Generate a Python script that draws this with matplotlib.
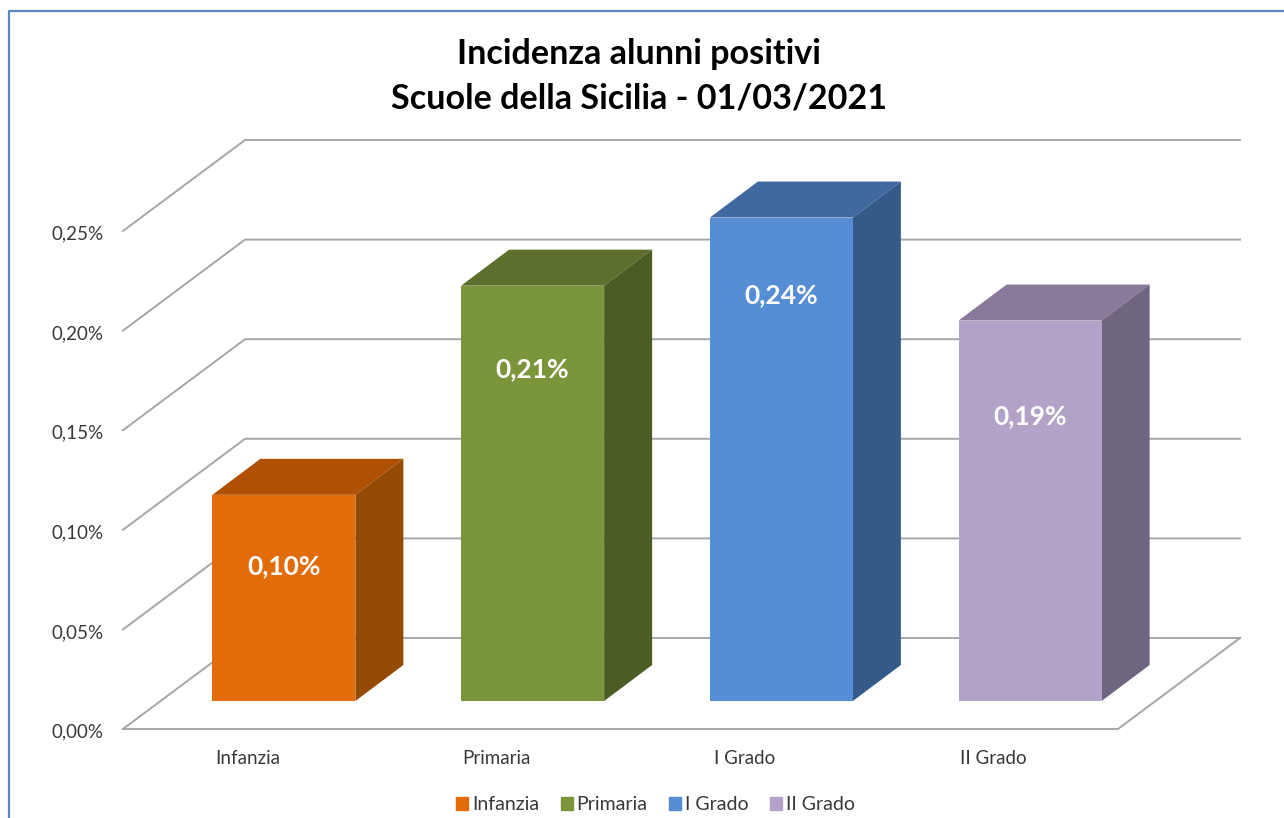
import matplotlib
matplotlib.use('Agg')
import matplotlib.pyplot as plt
from matplotlib.patches import Patch, Polygon, Rectangle
from matplotlib.transforms import ScaledTranslation

plt.rcParams['font.family'] = ['Lato', 'DejaVu Sans']

categories = ['Infanzia', 'Primaria', 'I Grado', 'II Grado']
values = [0.1035, 0.2085, 0.2427, 0.191]
value_labels = ['0,10%', '0,21%', '0,24%', '0,19%']
y_ticks = [0.00, 0.05, 0.10, 0.15, 0.20, 0.25]
y_tick_labels = ['0,00%', '0,05%', '0,10%', '0,15%', '0,20%', '0,25%']
front_colors = ['#E36C0A', '#7B953B', '#558ED5', '#B3A2C7']
side_colors = ['#954A04', '#4B5C25', '#345A8A', '#706580']
top_colors = ['#AF5004', '#5C6F2C', '#4069A0', '#887A98']
label_drop = [71, 83, 78, 96]  # px below the top of the bar

W, H = 1284, 818
fig = plt.figure(figsize=(W / 100, H / 100), dpi=100)
ax = fig.add_axes([123 / W, 1 - 729 / H, 995 / W, 498 / H])
ax.set_xlim(-0.5, 3.5)
ax.set_ylim(0, 0.25)
for s in ax.spines.values():
    s.set_visible(False)

# pixel offsets turned into data units for the fake 3D look
px_x = 4 / 995
px_y = 0.25 / 498


def shift(x, y, dx, dy):
    return (x + dx * px_x, y + dy * px_y)


grid = '#A6A6A6'
wall_dx, wall_dy = 122, 91
for v in y_ticks:
    x0, y0 = shift(-0.5, v, wall_dx, wall_dy)
    x1, y1 = shift(3.5, v, wall_dx, wall_dy)
    ax.plot([-0.5, x0, x1], [v, y0, y1], color=grid, lw=1.4, clip_on=False, zorder=1)
# floor
x0, y0 = shift(3.5, 0, wall_dx, wall_dy)
ax.plot([-0.5, 3.5, x0], [0, 0, y0], color=grid, lw=1.4, clip_on=False, zorder=1)

bar_w = 143 * px_x
for i, v in enumerate(values):
    left, base = shift(i - bar_w / 2, 0, 36.5, 28)
    right = left + bar_w
    top = base + v
    d = (48, 36)
    ax.add_patch(Polygon([(left, top), (right, top), shift(right, top, *d), shift(left, top, *d)],
                         color=top_colors[i], lw=0, clip_on=False, zorder=3))
    ax.add_patch(Polygon([(right, base), shift(right, base, *d), shift(right, top, *d), (right, top)],
                         color=side_colors[i], lw=0, clip_on=False, zorder=3))
    ax.add_patch(Rectangle((left, base), bar_w, v, color=front_colors[i], lw=0, clip_on=False, zorder=4))
    ax.text((left + right) / 2, top - label_drop[i] * px_y, value_labels[i], color='white',
            fontsize=19, fontweight='bold', ha='center', va='center', zorder=5)

ax.set_xticks(range(4))
ax.set_xticklabels(categories, fontsize=13.5, color='#383838')
ax.set_yticks(y_ticks)
ax.set_yticklabels(y_tick_labels, fontsize=13.5, color='#383838')
ax.tick_params(length=0)
ax.tick_params(axis='x', pad=15)
ax.tick_params(axis='y', pad=14)
# y labels sit a little under their line in the original
for t in ax.get_yticklabels():
    t.set_transform(t.get_transform() + ScaledTranslation(0, -1.5 / 100, fig.dpi_scale_trans))

fig.text(639 / W, 1 - 54 / H, 'Incidenza alunni positivi', fontsize=24.6, fontweight='bold',
         ha='center', va='center', color='black')
fig.text(639 / W, 1 - 99 / H, 'Scuole della Sicilia - 01/03/2021', fontsize=24.6, fontweight='bold',
         ha='center', va='center', color='black')

handles = [Patch(color=c, label=n) for c, n in zip(front_colors, categories)]
fig.legend(handles=handles, ncol=4, loc='center', bbox_to_anchor=(655.5 / W, 1 - 805 / H), frameon=False,
           fontsize=14, labelcolor='#383838', handlelength=0.62, handleheight=0.62,
           handletextpad=0.2, columnspacing=1.1, borderpad=0)

# blue chart frame, cut off by the screenshot on the right and bottom
fig.add_artist(plt.Line2D([9 / W, 9 / W, 1], [0, 1 - 11 / H, 1 - 11 / H], color='#5B86C4', lw=1.6))

fig.savefig('out.png', dpi=100)
